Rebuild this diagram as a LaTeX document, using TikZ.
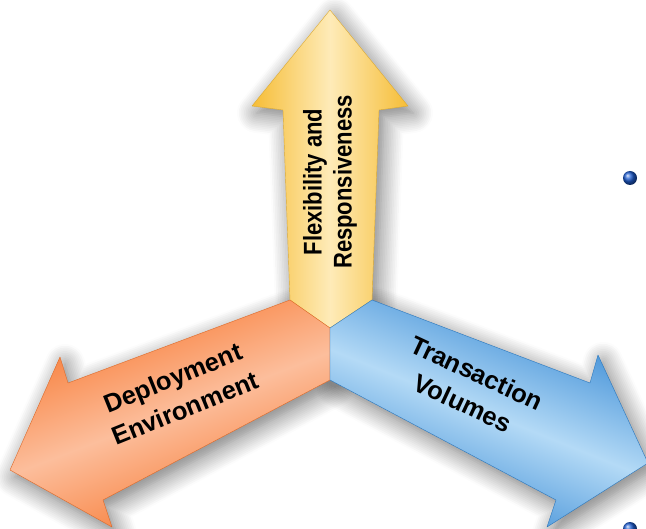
\documentclass[tikz,border=0pt]{standalone}
\usepackage{fontspec}
\setmainfont{Liberation Sans}
\newfontfamily\uplabelfont[FakeStretch=0.86]{Liberation Sans}
\usetikzlibrary{shadows.blur}

\definecolor{yellowedge}{HTML}{F6BD36}
\definecolor{yellowglow}{HTML}{FEEBB8}
\definecolor{orangeedge}{HTML}{F7752C}
\definecolor{orangeglow}{HTML}{FCBE9C}
\definecolor{blueedge}{HTML}{2F84D2}
\definecolor{blueglow}{HTML}{B4DAF6}
\definecolor{bulletblue}{HTML}{1E5CD0}

\tikzset{
  arrowshadow/.style={blur shadow={shadow xshift=5pt, shadow yshift=-7pt, shadow blur radius=20pt, shadow blur steps=12, shadow opacity=55}},
  arrowbody/.style={line width=0.4pt, line join=round},
  arrowlabel/.style={font=\bfseries\fontsize{25.5}{33}\selectfont, align=center, text=black, inner sep=0pt},
  bullet/.style={circle, minimum size=14pt, inner sep=0pt, shading=ball, ball color=bulletblue}
}

\begin{document}
\begin{tikzpicture}[x=1pt, y=-1pt]
\useasboundingbox (0,0) rectangle (646,529);
% hub and shared corners
\coordinate (hub) at (330,328);
\coordinate (yl) at (290,300);
\coordinate (yr) at (372,300);
\coordinate (low) at (330,380);
% upward arrow
\coordinate (yln) at (283,110);
\coordinate (ylw) at (252,106);
\coordinate (ytip) at (330,10);
\coordinate (yrw) at (408,106);
\coordinate (yrn) at (379,110);
% left arrow
\coordinate (otn) at (68,383);
\coordinate (otw) at (60,357);
\coordinate (otip) at (10,470);
\coordinate (obw) at (112,527);
\coordinate (obn) at (103,500);
% right arrow
\coordinate (btn) at (590,383);
\coordinate (btw) at (598,355);
\coordinate (btip) at (648,463);
\coordinate (bbw) at (547,527);
\coordinate (bbn) at (556,500);

% shadows first
\path[arrowshadow] (hub) -- (yl) -- (yln) -- (ylw) -- (ytip) -- (yrw) -- (yrn) -- (yr) -- cycle;
\path[arrowshadow] (hub) -- (yl) -- (otn) -- (otw) -- (otip) -- (obw) -- (obn) -- (low) -- cycle;
\path[arrowshadow] (hub) -- (yr) -- (btn) -- (btw) -- (btip) -- (bbw) -- (bbn) -- (low) -- cycle;

% arrow bodies
\shade[arrowbody, draw=yellowedge!90!black, left color=yellowedge, right color=yellowedge, middle color=yellowglow]
  (hub) -- (yl) -- (yln) -- (ylw) -- (ytip) -- (yrw) -- (yrn) -- (yr) -- cycle;
\shade[arrowbody, draw=orangeedge!90!black, top color=orangeedge, bottom color=orangeedge, middle color=orangeglow, shading angle=21]
  (hub) -- (yl) -- (otn) -- (otw) -- (otip) -- (obw) -- (obn) -- (low) -- cycle;
\shade[arrowbody, draw=blueedge!90!black, top color=blueedge, bottom color=blueedge, middle color=blueglow, shading angle=-22]
  (hub) -- (yr) -- (btn) -- (btw) -- (btip) -- (bbw) -- (bbn) -- (low) -- cycle;

% labels
\node[arrowlabel, font=\uplabelfont\bfseries\fontsize{25.6}{30}\selectfont, rotate=90] (flex) at (330,182) {Flexibility and\\Responsiveness};
\node[arrowlabel, rotate=22] (deploy) at (179,393) {Deployment\\Environment};
\node[arrowlabel, rotate=-25] (trans) at (470,388) {Transaction\\Volumes};

% bullets
\node[bullet] (dot1) at (630,178) {};
\node[bullet] (dot2) at (630,529) {};
\end{tikzpicture}
\end{document}
